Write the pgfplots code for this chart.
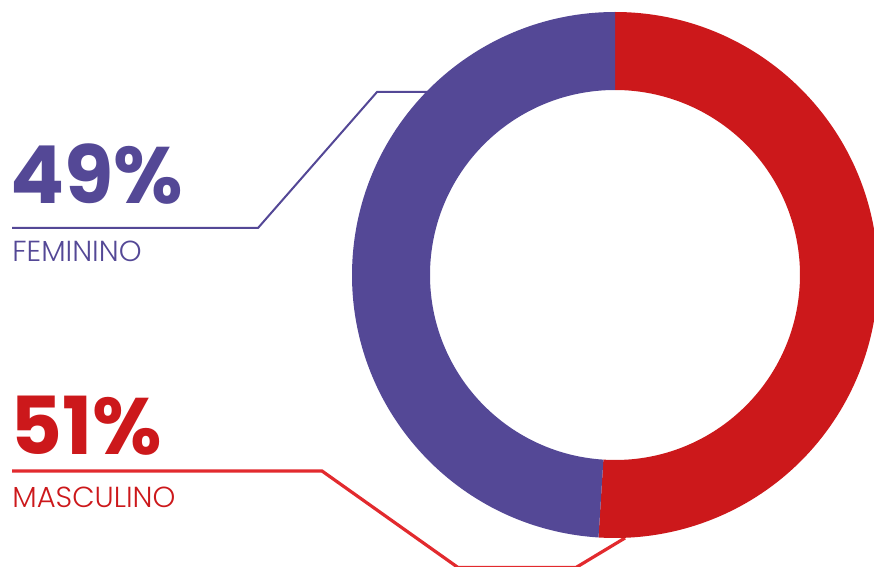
\documentclass[border=0pt]{standalone}
\usepackage{pgfplots}
\pgfplotsset{compat=1.18}
\usepackage{fontspec}
\setmainfont{Poppins}
\newfontfamily\lightfont{Poppins Light}
\definecolor{fem}{RGB}{84,72,150}
\definecolor{masc}{RGB}{204,24,27}
\definecolor{mascline}{RGB}{226,42,46}
\def\valM{51}
\def\valF{49}
\begin{document}
\begin{tikzpicture}
\useasboundingbox (0,0) rectangle (437pt,283.5pt);
\pgfmathsetmacro{\angM}{90-3.6*\valM}
\def\Ro{131.5pt}
\def\Ri{92.5pt}
\def\Rd{39pt}
\begin{axis}[x=0.5pt,y=0.5pt,xmin=0,xmax=874,ymin=0,ymax=567,y dir=reverse,
  hide axis, disabledatascaling, anchor=south west, at={(0,0)}]
\addplot[fem, line width=1pt, mark=none] coordinates {(12,228) (258,228) (377,92) (440,92)};
\addplot[mascline, line width=1.6pt, mark=none] coordinates {(12,471) (322,471) (458,567.5) (576,567.5) (625,538)};
\fill[masc] (axis cs:615,275) ++(90:\Ro) arc[start angle=90, end angle=\angM, radius=\Ro]
  -- ++(\angM:-\Rd) arc[start angle=\angM, end angle=90, radius=\Ri] -- cycle;
\fill[fem] (axis cs:615,275) ++(\angM:\Ro) arc[start angle=\angM, end angle=-270, radius=\Ro]
  -- ++(90:-\Rd) arc[start angle=-270, end angle=\angM, radius=\Ri] -- cycle;
\node[anchor=base west, inner sep=0pt, text=fem, font=\fontsize{40}{40}\selectfont\bfseries] at (axis cs:10,204) {\valF\%};
\node[anchor=base west, inner sep=0pt, text=fem, font=\fontsize{14.5}{15}\selectfont\lightfont] at (axis cs:12,262) {FEMININO};
\node[anchor=base west, inner sep=0pt, text=masc, font=\fontsize{40}{40}\selectfont\bfseries] at (axis cs:10,454) {\valM\%};
\node[anchor=base west, inner sep=0pt, text=masc, font=\fontsize{14.5}{15}\selectfont\lightfont] at (axis cs:12,507) {MASCULINO};
\end{axis}
\end{tikzpicture}
\end{document}
